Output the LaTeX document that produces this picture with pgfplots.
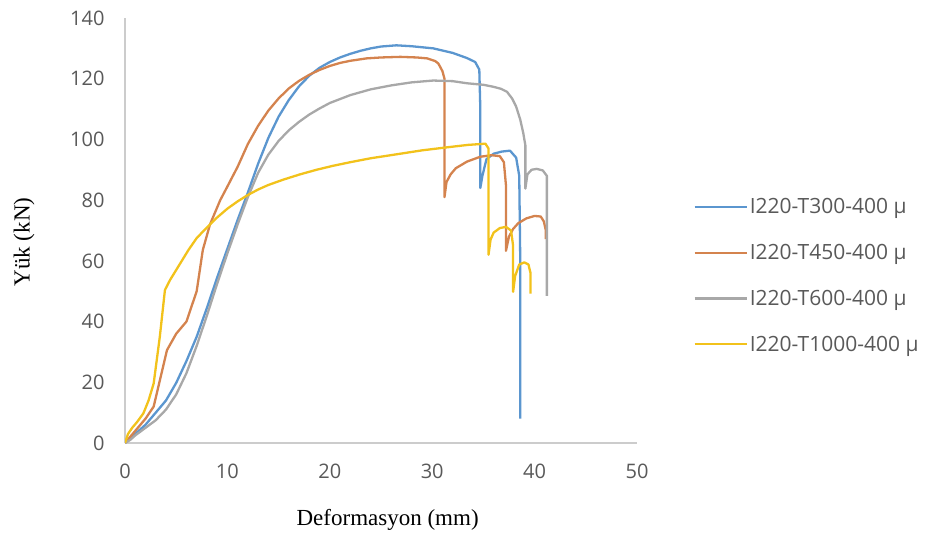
\documentclass[border=0pt]{standalone}
\usepackage{fontspec}
\setmainfont{Open Sans}
\newfontfamily\labelfont{Liberation Serif}
\usepackage{pgfplots}
\pgfplotsset{compat=1.18}

\definecolor{sblue}{HTML}{5B96CF}
\definecolor{sorange}{HTML}{D4834E}
\definecolor{sgray}{HTML}{A8A8A8}
\definecolor{syellow}{HTML}{F2C21B}
\definecolor{ticktext}{HTML}{595959}

\begin{document}
\begin{tikzpicture}
\path[use as bounding box] (0,0) rectangle (931pt,542pt);
\begin{axis}[
  at={(125pt,99pt)}, anchor=south west,
  scale only axis,
  width=512pt, height=425pt,
  xmin=0, xmax=50, ymin=0, ymax=140,
  xtick={0,10,20,30,40,50},
  ytick={0,20,40,60,80,100,120,140},
  axis lines=left,
  axis line style={-, draw=black!20, line width=1.2pt},
  major tick length=0pt,
  tick label style={font=\fontsize{20}{23}\selectfont, text=ticktext},
  /pgf/number format/assume math mode=true,
  xticklabel style={yshift=-17pt},
  yticklabel style={xshift=-17pt},
  xlabel={\labelfont\fontsize{23}{26}\selectfont Deformasyon (mm)},
  ylabel={\labelfont\fontsize{23}{26}\selectfont Yük (kN)},
  every axis x label/.style={at={(axis description cs:0.513,-0.181)}, anchor=center},
  every axis y label/.style={at={(axis description cs:-0.197,0.473)}, anchor=center, rotate=90},
  legend style={draw=none, fill=none, at={(1.11,0.394)}, anchor=west,
    font=\fontsize{21}{24}\selectfont, text=ticktext, row sep=25pt,
    inner sep=0pt, cells={anchor=west},
    /tikz/every even column/.append style={column sep=4pt}},
  legend image code/.code={\draw[#1] (0pt,0pt) -- (52pt,0pt);},
  every axis plot/.append style={line width=2.3pt, line join=round},
]
% I220-T300-400
\addplot[sblue] coordinates {
  (0,0) (0.5,1.5) (1,3) (2,6) (3,10) (4,14) (5,19.8) (6,27) (7,35) (8,44.5)
  (9,54.5) (10,64) (11,73.5) (12,82.5) (13,92) (14,100.5) (15,107.5)
  (16,113) (17,117.5) (18,121) (19,123.6) (20,125.5) (21,127) (22,128.2)
  (23,129.2) (24,130) (25,130.6) (26.5,131) (28,130.7) (30.1,130) (32,128.5)
  (33.4,126.8) (34.2,125.5) (34.6,123) (34.7,110) (34.7,84) (34.9,88)
  (35.3,93.5) (36,95.3) (36.8,96) (37.6,96.3) (38.2,94) (38.5,88) (38.6,60)
  (38.6,8)
};
\addlegendentry{I220-T300-400 µ}
% I220-T450-400
\addplot[sorange] coordinates {
  (0,0) (0.5,2) (1,4) (2,8) (2.8,12) (3.5,22) (4.1,30.6) (5,36) (6,40) (7,50)
  (7.6,63.6) (8.3,72) (9.3,80) (10,84.5) (11,91) (12,98.5) (13,104.5)
  (14,109.5) (15,113.5) (16,116.8) (17,119.3) (18,121.3) (19,122.9)
  (20,124.2) (21,125.2) (22,125.9) (23.6,126.7) (25,127) (26.9,127.2)
  (28.5,127) (29.5,126.7) (30.3,125.8) (30.6,125) (31,122.5) (31.2,120)
  (31.2,81) (31.4,86) (31.8,88.5) (32.3,90.5) (33.4,92.7) (34.7,94.3)
  (35.8,94.8) (36.6,94.5) (37,92.5) (37.2,85) (37.2,63.3) (37.5,68)
  (37.9,70.5) (38.4,72.4) (39.2,74) (40,74.8) (40.6,74.6) (40.9,73)
  (41.1,70) (41.1,67.2)
};
\addlegendentry{I220-T450-400 µ}
% I220-T600-400
\addplot[sgray] coordinates {
  (0,0) (0.5,1) (1,2.5) (2,5) (3,7.5) (4,11) (5,16) (6,23) (7,32) (8,42)
  (9,52.5) (10,62.5) (11,72) (12,81) (13,89) (14,95) (15,99.5) (16,103)
  (17,105.8) (18,108.2) (19,110.2) (20,112) (22,114.6) (24,116.5) (26,117.8)
  (28,118.8) (30.1,119.4) (32,119.2) (33.4,118.5) (35,118) (35.9,117.4)
  (36.7,116.7) (37.3,115.7) (37.8,113.5) (38.2,110.8) (38.6,106.5)
  (38.9,102) (39.1,98) (39.1,83.8) (39.3,88.5) (39.7,90) (40.2,90.3)
  (40.8,89.8) (41.2,88) (41.2,48.5)
};
\addlegendentry{I220-T600-400 µ}
% I220-T1000-400
\addplot[syellow] coordinates {
  (0,0) (0.3,3) (0.7,5) (1.2,7) (1.8,9.8) (2.3,14) (2.8,19.6) (3.4,35)
  (3.9,50.4) (4.4,53.7) (5.4,59.2) (6.2,63.6) (7,67.5) (8,71) (9,74.3)
  (10,77.2) (11,79.6) (12,81.7) (13,83.5) (14,85) (15.5,86.8) (17.1,88.5)
  (18.7,90) (20.3,91.3) (22,92.5) (24,93.8) (26.9,95.3) (29,96.4)
  (31.7,97.5) (33.5,98.2) (35.2,98.6) (35.5,97) (35.5,62) (35.7,67)
  (36,69.3) (36.6,70.8) (37.2,71.2) (37.7,70) (37.9,65) (37.9,49.8)
  (38.1,55) (38.5,58.8) (39,59.5) (39.4,58.8) (39.6,56) (39.6,49.2)
};
\addlegendentry{I220-T1000-400 µ}
\end{axis}
\end{tikzpicture}
\end{document}
